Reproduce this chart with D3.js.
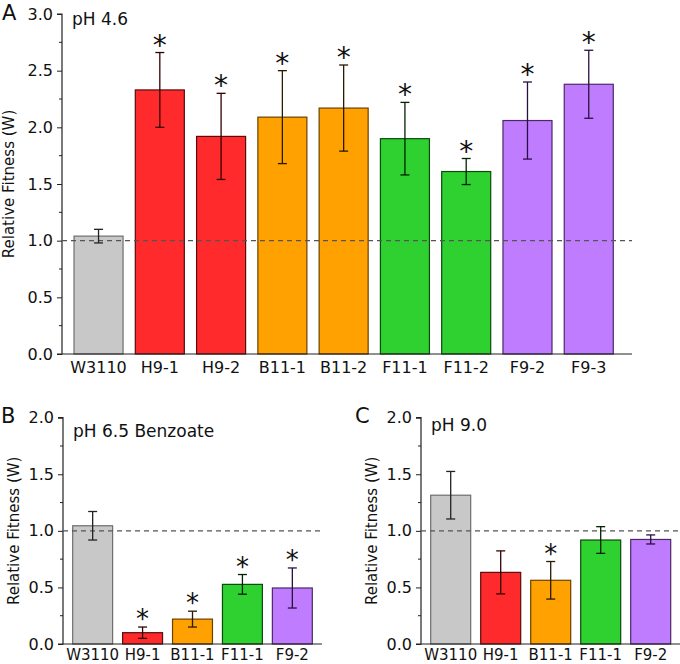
<!DOCTYPE html>
<html>
<head>
<meta charset="utf-8">
<script src="https://cdn.jsdelivr.net/npm/d3@7"></script>
<style>
  body { margin: 0; background: #fff; }
  svg { display: block; font-family: "DejaVu Sans", Verdana, sans-serif; }
</style>
</head>
<body>
<script>
// panel A: pH 4.6
const strainsA = ['W3110', 'H9-1', 'H9-2', 'B11-1', 'B11-2', 'F11-1', 'F11-2', 'F9-2', 'F9-3'];
const fitnessA = [1.04, 2.33, 1.92, 2.09, 2.17, 1.90, 1.61, 2.06, 2.38];
const errA = [0.06, 0.33, 0.38, 0.41, 0.38, 0.32, 0.115, 0.34, 0.30];
const starA = [false, true, true, true, true, true, true, true, true];
const groupA = ['wt', 'H9', 'H9', 'B11', 'B11', 'F11', 'F11', 'F9', 'F9'];

// panel B: pH 6.5 benzoate
const strainsB = ['W3110', 'H9-1', 'B11-1', 'F11-1', 'F9-2'];
const fitnessB = [1.045, 0.10, 0.22, 0.527, 0.495];
const errB = [0.126, 0.05, 0.07, 0.087, 0.177];
const starB = [false, true, true, true, true];

// panel C: pH 9.0
const strainsC = ['W3110', 'H9-1', 'B11-1', 'F11-1', 'F9-2'];
const fitnessC = [1.315, 0.633, 0.563, 0.919, 0.924];
const errC = [0.21, 0.19, 0.166, 0.118, 0.04];
const starC = [false, false, true, false, false];
const groupBC = ['wt', 'H9', 'B11', 'F11', 'F9'];

const ticksA = [0, 0.5, 1.0, 1.5, 2.0, 2.5, 3.0];
const ticksBC = [0, 0.5, 1.0, 1.5, 2.0];

const fills = { wt: '#c8c8c8', H9: '#fe2a2c', B11: '#ffa100', F11: '#2ed130', F9: '#c07cff' };
const edges = { wt: '#6e6e6e', H9: '#5a0c0c', B11: '#6a4200', F11: '#0d4a0d', F9: '#4a2a66' };
const whisk = { wt: '#222', H9: '#300', B11: '#2a1a00', F11: '#052005', F9: '#2a1040' };

const svg = d3.select('body').append('svg')
  .attr('width', 680)
  .attr('height', 664);

function drawPanel (p) {
  const g = svg.append('g');

  const x = d3.scaleBand()
    .domain(p.strains)
    .range([p.barL, p.barR])
    .paddingInner(p.padIn)
    .paddingOuter(p.padOut);

  const y = d3.scaleLinear()
    .domain([0, p.yMax])
    .range([p.bottom, p.top]);

  // minor ticks
  const minor = d3.range(0.25, p.yMax, 0.5);
  g.selectAll('.minor')
    .data(minor)
    .enter().append('line')
    .attr('x1', p.axisX - 3)
    .attr('x2', p.axisX)
    .attr('y1', d => y(d))
    .attr('y2', d => y(d))
    .attr('stroke', '#222')
    .attr('stroke-width', 1);

  const yAxis = d3.axisLeft(y)
    .tickValues(p.ticks)
    .tickFormat(d3.format('.1f'))
    .tickSize(5)
    .tickPadding(4);

  const ya = g.append('g')
    .attr('transform', `translate(${p.axisX},0)`)
    .call(yAxis);
  ya.select('.domain').attr('stroke', '#222').attr('stroke-width', 1.2)
    .attr('d', `M-5,${p.bottom}H0V${p.top}H-5`);
  ya.selectAll('.tick line').attr('stroke', '#222');
  ya.selectAll('.tick text')
    .attr('font-size', 16)
    .attr('fill', '#111')
    .style('font-family', '"DejaVu Sans", Verdana, sans-serif');

  // bars
  g.selectAll('.bar')
    .data(p.strains)
    .enter().append('rect')
    .attr('x', d => x(d))
    .attr('y', (d, i) => y(p.values[i]))
    .attr('width', x.bandwidth())
    .attr('height', (d, i) => p.bottom - y(p.values[i]))
    .attr('fill', (d, i) => fills[p.groups[i]])
    .attr('stroke', (d, i) => edges[p.groups[i]])
    .attr('stroke-width', 1.2);

  // reference line at W = 1
  g.append('line')
    .attr('x1', p.axisX)
    .attr('x2', p.xEnd)
    .attr('y1', y(1))
    .attr('y2', y(1))
    .attr('stroke', '#555')
    .attr('stroke-width', 1.1)
    .attr('stroke-dasharray', '5,4');

  // error bars
  p.strains.forEach((s, i) => {
    const cx = x(s) + x.bandwidth() / 2;
    const hi = y(p.values[i] + p.errs[i]);
    const lo = y(p.values[i] - p.errs[i]);
    const c = whisk[p.groups[i]];
    g.append('line').attr('x1', cx).attr('x2', cx).attr('y1', hi).attr('y2', lo)
      .attr('stroke', c).attr('stroke-width', 1.3);
    [hi, lo].forEach(v => {
      g.append('line').attr('x1', cx - 4.5).attr('x2', cx + 4.5).attr('y1', v).attr('y2', v)
        .attr('stroke', c).attr('stroke-width', 1.3);
    });
    if (p.stars[i]) {
      g.append('text')
        .attr('x', cx)
        .attr('y', hi + p.starDy)
        .attr('text-anchor', 'middle')
        .attr('font-size', p.starSize)
        .attr('fill', '#111')
        .text('*');
    }
  });

  // x axis
  g.append('line')
    .attr('x1', p.axisX)
    .attr('x2', p.xEnd)
    .attr('y1', p.bottom)
    .attr('y2', p.bottom)
    .attr('stroke', '#222')
    .attr('stroke-width', 1.2);

  g.selectAll('.xlab')
    .data(p.strains)
    .enter().append('text')
    .attr('x', d => x(d) + x.bandwidth() / 2)
    .attr('y', p.bottom + p.labDy)
    .attr('text-anchor', 'middle')
    .attr('font-size', p.labSize)
    .attr('fill', '#111')
    .text(d => d);

  // y title
  g.append('text')
    .attr('transform', `translate(${p.titleX},${(p.top + p.bottom) / 2}) rotate(-90)`)
    .attr('text-anchor', 'middle')
    .attr('font-size', 15)
    .attr('fill', '#111')
    .text('Relative Fitness (W)');

  // panel letter and condition
  g.append('text')
    .attr('x', p.letterX)
    .attr('y', p.top + p.letterDy)
    .attr('font-size', 21)
    .attr('fill', '#111')
    .text(p.letter);

  g.append('text')
    .attr('x', p.axisX + 10)
    .attr('y', p.top + p.condDy)
    .attr('font-size', 17)
    .attr('fill', '#111')
    .text(p.cond);
}

drawPanel({
  strains: strainsA, values: fitnessA, errs: errA, stars: starA, groups: groupA,
  ticks: ticksA, yMax: 3, top: 14, bottom: 354,
  axisX: 62, xEnd: 632, barL: 67.9, barR: 619.4, padIn: 0.2, padOut: 0.1,
  labDy: 19, labSize: 16,
  titleX: 14, letter: 'A', letterX: 2, letterDy: 6, cond: 'pH 4.6', condDy: 11,
  starSize: 28, starDy: 2
});

drawPanel({
  strains: strainsB, values: fitnessB, errs: errB, stars: starB, groups: groupBC,
  ticks: ticksBC, yMax: 2, top: 417.7, bottom: 644,
  axisX: 63, xEnd: 322, barL: 67.7, barR: 317.3, padIn: 0.2, padOut: 0.1,
  labDy: 16, labSize: 15,
  titleX: 19, letter: 'B', letterX: 1, letterDy: 5, cond: 'pH 6.5 Benzoate', condDy: 19,
  starSize: 26, starDy: 1
});

drawPanel({
  strains: strainsC, values: fitnessC, errs: errC, stars: starC, groups: groupBC,
  ticks: ticksBC, yMax: 2, top: 417.7, bottom: 644,
  axisX: 421, xEnd: 680, barL: 425.7, barR: 675.7, padIn: 0.2, padOut: 0.1,
  labDy: 16, labSize: 15,
  titleX: 377, letter: 'C', letterX: 355, letterDy: 5, cond: 'pH 9.0', condDy: 13,
  starSize: 26, starDy: 1
});
</script>
</body>
</html>
